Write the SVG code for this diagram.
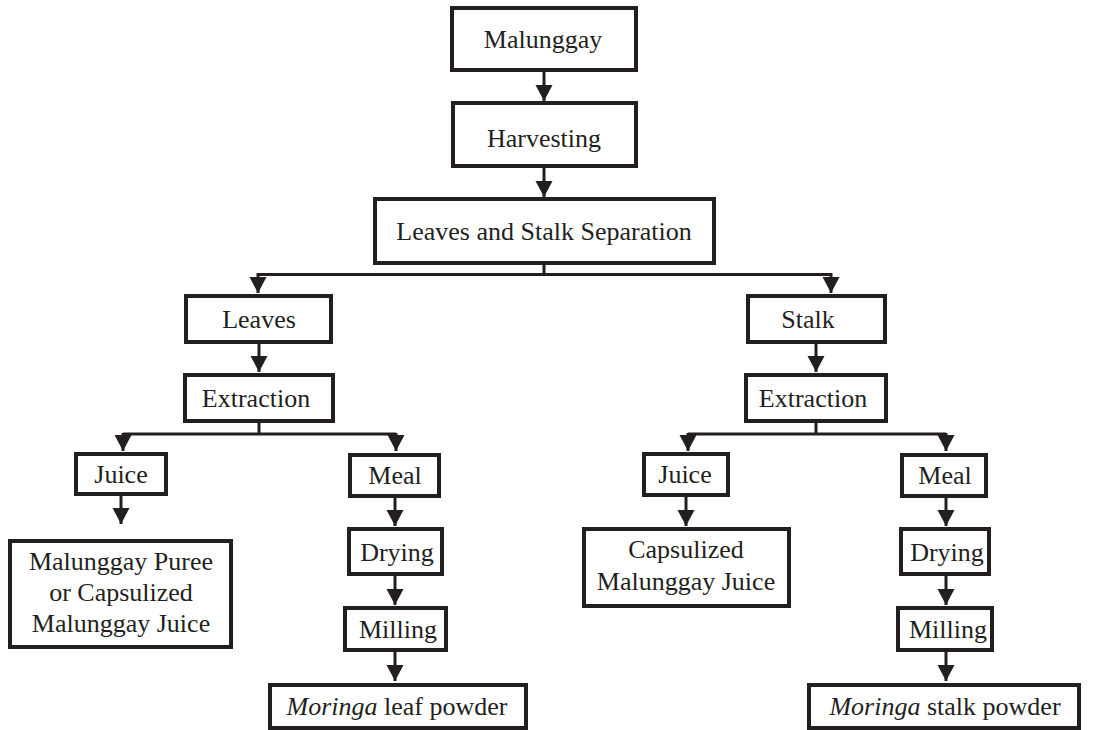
<svg xmlns="http://www.w3.org/2000/svg" width="1114" height="730" viewBox="0 0 1114 730">
<style>
.box{fill:#fff;stroke:#231f20;stroke-width:4}
.t{font-family:"Liberation Serif","Times New Roman",serif;font-size:26px;fill:#231f20;text-anchor:middle}
.c{fill:none;stroke:#231f20;stroke-width:3}
</style>
<defs>
<marker id="ah" markerUnits="userSpaceOnUse" markerWidth="18" markerHeight="18" refX="16" refY="8.5" orient="auto">
<path d="M0,0 L16,8.5 L0,17 Z" fill="#231f20"/>
</marker>
</defs>
<rect width="1114" height="730" fill="#fff"/>
<g id="connectors">
<path class="c" d="M544,71 V101" marker-end="url(#ah)"/>
<path class="c" d="M544,167 V197" marker-end="url(#ah)"/>
<path class="c" d="M544,264 V274.5 M258,274.5 H831"/>
<path class="c" d="M258,273 V293" marker-end="url(#ah)"/>
<path class="c" d="M831,273 V293" marker-end="url(#ah)"/>
<path class="c" d="M259,343 V372" marker-end="url(#ah)"/>
<path class="c" d="M259,422 V434 M123,434 H396"/>
<path class="c" d="M123,433 V451" marker-end="url(#ah)"/>
<path class="c" d="M396,433 V451" marker-end="url(#ah)"/>
<path class="c" d="M121,495 V524" marker-end="url(#ah)"/>
<path class="c" d="M395,497 V526" marker-end="url(#ah)"/>
<path class="c" d="M395,575 V605" marker-end="url(#ah)"/>
<path class="c" d="M395,651 V681" marker-end="url(#ah)"/>
<path class="c" d="M816,343 V372" marker-end="url(#ah)"/>
<path class="c" d="M816,422 V434 M688,434 H946"/>
<path class="c" d="M688,433 V451" marker-end="url(#ah)"/>
<path class="c" d="M946,433 V451" marker-end="url(#ah)"/>
<path class="c" d="M686,496 V526" marker-end="url(#ah)"/>
<path class="c" d="M946,497 V526" marker-end="url(#ah)"/>
<path class="c" d="M946,575 V605" marker-end="url(#ah)"/>
<path class="c" d="M946,651 V681" marker-end="url(#ah)"/>
</g>
<g id="malunggay"><rect class="box" x="452" y="8" width="184" height="62"/><text class="t" x="543" y="48">Malunggay</text></g>
<g id="harvesting"><rect class="box" x="453" y="103" width="183" height="63"/><text class="t" x="544" y="147">Harvesting</text></g>
<g id="separation"><rect class="box" x="375" y="199" width="339" height="64"/><text class="t" x="544" y="240">Leaves and Stalk Separation</text></g>
<g id="leaves"><rect class="box" x="186" y="296" width="145" height="46"/><text class="t" x="259" y="328">Leaves</text></g>
<g id="extraction-l"><rect class="box" x="185" y="375" width="148" height="46"/><text class="t" x="256" y="407">Extraction</text></g>
<g id="juice-l"><rect class="box" x="76" y="454" width="90" height="40"/><text class="t" x="121" y="483">Juice</text></g>
<g id="puree"><rect class="box" x="10" y="541" width="221" height="106"/><text class="t" x="121" y="570">Malunggay Puree</text><text class="t" x="121" y="601">or Capsulized</text><text class="t" x="121" y="632">Malunggay Juice</text></g>
<g id="meal-l"><rect class="box" x="350" y="455" width="89" height="41"/><text class="t" x="395" y="484">Meal</text></g>
<g id="drying-l"><rect class="box" x="349" y="529" width="93" height="45"/><text class="t" x="397" y="561">Drying</text></g>
<g id="milling-l"><rect class="box" x="345" y="608" width="101" height="42"/><text class="t" x="398" y="638">Milling</text></g>
<g id="leaf-powder"><rect class="box" x="270" y="685" width="256" height="43"/><text class="t" x="397" y="715"><tspan font-style="italic">Moringa</tspan> leaf powder</text></g>
<g id="stalk"><rect class="box" x="748" y="296" width="137" height="46"/><text class="t" x="808" y="328">Stalk</text></g>
<g id="extraction-r"><rect class="box" x="746" y="375" width="140" height="46"/><text class="t" x="813" y="407">Extraction</text></g>
<g id="juice-r"><rect class="box" x="644" y="454" width="84" height="41"/><text class="t" x="685" y="483">Juice</text></g>
<g id="capsulized"><rect class="box" x="584" y="529" width="205" height="77"/><text class="t" x="686" y="558">Capsulized</text><text class="t" x="686" y="590">Malunggay Juice</text></g>
<g id="meal-r"><rect class="box" x="902" y="455" width="84" height="41"/><text class="t" x="945" y="484">Meal</text></g>
<g id="drying-r"><rect class="box" x="901" y="529" width="88" height="45"/><text class="t" x="947" y="561">Drying</text></g>
<g id="milling-r"><rect class="box" x="898" y="608" width="94" height="42"/><text class="t" x="948" y="638">Milling</text></g>
<g id="stalk-powder"><rect class="box" x="809" y="685" width="270" height="43"/><text class="t" x="945" y="715"><tspan font-style="italic">Moringa</tspan> stalk powder</text></g>
</svg>
